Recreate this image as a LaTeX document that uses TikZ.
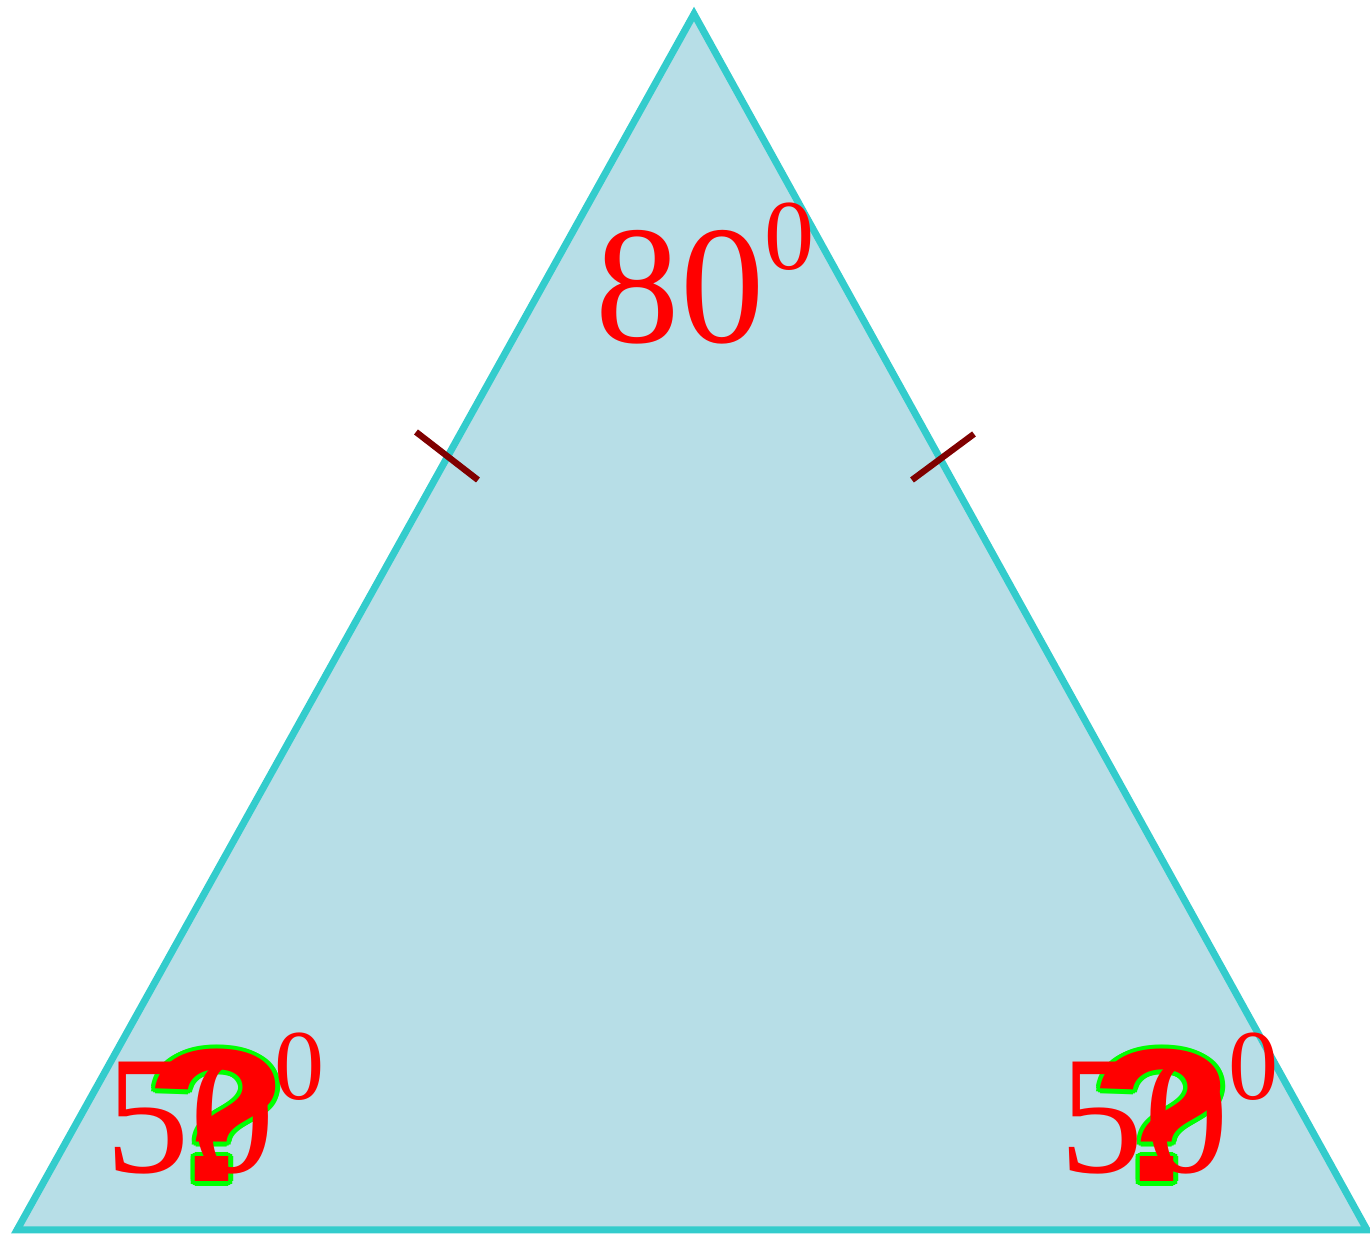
\documentclass[tikz,border=0pt]{standalone}
\usepackage{fontspec}
\setmainfont{Liberation Serif}
\newfontfamily\qfont{Liberation Sans}
\usetikzlibrary{positioning,calc}

\definecolor{trifill}{RGB}{183,222,231}
\definecolor{triline}{RGB}{51,204,204}
\definecolor{tickred}{RGB}{128,0,0}
\newcommand{\angdeg}[1]{#1\raisebox{21pt}{\fontsize{28.5}{28.5}\selectfont 0}}
\newcommand{\qsign}{\scalebox{1.25}[1]{?}}

\begin{document}
\begin{tikzpicture}[
  ang/.style={inner sep=0pt, anchor=base west, text=red, font=\fontsize{48}{48}\selectfont},
  qmark/.style={inner sep=0pt, anchor=base west, font=\qfont\fontsize{54}{54}\selectfont\bfseries},
  tick/.style={draw=tickred, line width=1.8pt}
]
\useasboundingbox (0,0) rectangle (13.70,12.36);

% the triangle
\coordinate (A) at (0.17,0.06);
\coordinate (B) at (13.67,0.06);
\coordinate (C) at (6.94,12.22);
\draw[fill=trifill, draw=triline, line width=2pt, line join=miter] (A) -- (B) -- (C) -- cycle;

% equal sides
\draw[tick] (4.16,8.04) -- (4.78,7.56);
\draw[tick] (9.74,8.02) -- (9.12,7.56);

% unknown angles
\foreach \a in {0,30,...,330} {
  \node[qmark, text=green] at ($(1.44,0.54)+(\a:0.045)$) {\qsign};
  \node[qmark, text=green] at ($(10.89,0.54)+(\a:0.045)$) {\qsign};
}
\node[qmark, text=red] (qA) at (1.44,0.54) {\qsign};
\node[qmark, text=red] (qB) at (10.89,0.54) {\qsign};

% angle values
\node[ang] (aC) at (5.95,8.93) {\angdeg{80}};
\node[ang] (aA) at (1.05,0.63) {\angdeg{50}};
\node[ang] (aB) at (10.59,0.63) {\angdeg{50}};
\end{tikzpicture}
\end{document}
